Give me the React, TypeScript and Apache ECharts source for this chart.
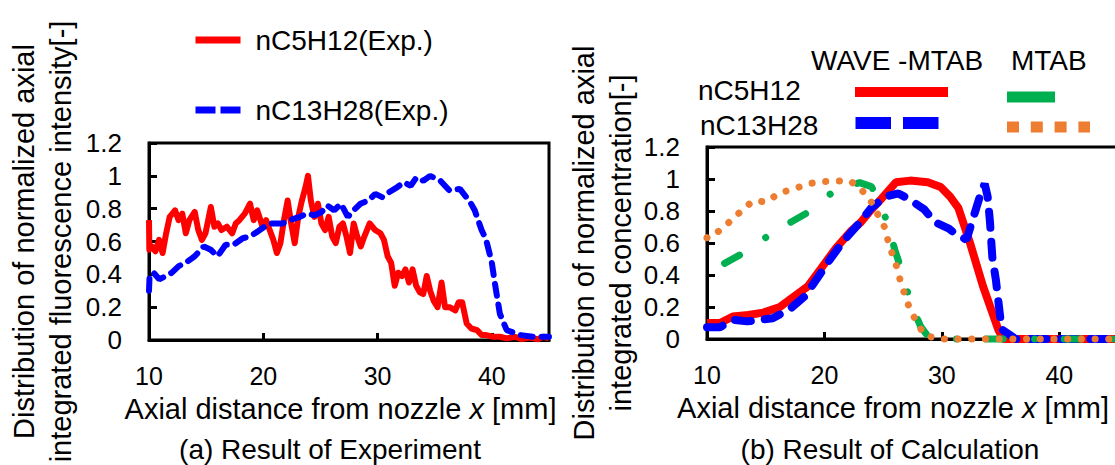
import React, { useEffect, useRef } from 'react';
import * as echarts from 'echarts';

const FONT = 'Arial, "Liberation Sans", Helvetica, sans-serif';

// x axis (mm) and y axis range
const X_MIN = 10;
const X_MAX = 45;
const X_STEP = 10;
const Y_MIN = 0;
const Y_MAX = 1.2;
const Y_STEP = 0.2;

// (a) Experiment
const expC5H12: [number, number][] = [
  [10.0, 0.73], [10.03, 0.55], [10.25, 0.57], [10.56, 0.54], [10.88, 0.61], [11.19, 0.53], [11.5, 0.65],
  [11.81, 0.75], [12.28, 0.79], [12.59, 0.73], [12.91, 0.77], [13.22, 0.65], [13.53, 0.73], [14.0, 0.78],
  [14.31, 0.67], [14.63, 0.61], [14.94, 0.65], [15.41, 0.81], [15.72, 0.69], [16.03, 0.71], [16.34, 0.67],
  [16.81, 0.69], [17.28, 0.65], [17.59, 0.71], [17.91, 0.73], [18.38, 0.77], [18.84, 0.83], [19.16, 0.73],
  [19.47, 0.79], [19.94, 0.69], [20.25, 0.73], [20.56, 0.67], [20.88, 0.61], [21.19, 0.53], [21.5, 0.59],
  [21.81, 0.73], [22.13, 0.85], [22.44, 0.71], [22.75, 0.59], [23.06, 0.75], [23.38, 0.85], [23.69, 0.93],
  [23.91, 1.0], [24.16, 0.85], [24.47, 0.75], [24.78, 0.83], [25.09, 0.71], [25.41, 0.67], [25.72, 0.75],
  [26.03, 0.63], [26.34, 0.59], [26.66, 0.69], [26.97, 0.71], [27.28, 0.63], [27.59, 0.53], [27.91, 0.71],
  [28.22, 0.63], [28.53, 0.57], [28.84, 0.63], [29.31, 0.71], [29.78, 0.67], [30.25, 0.65], [30.56, 0.61],
  [30.88, 0.51], [31.19, 0.47], [31.5, 0.33], [31.81, 0.41], [32.13, 0.39], [32.44, 0.43], [32.75, 0.35],
  [33.06, 0.43], [33.38, 0.33], [33.7, 0.29], [34.0, 0.28], [34.3, 0.39], [34.6, 0.3], [34.9, 0.24],
  [35.25, 0.2], [35.6, 0.35], [35.9, 0.2], [36.3, 0.2], [36.8, 0.18], [37.1, 0.23], [37.4, 0.23],
  [37.8, 0.1], [38.2, 0.07], [38.7, 0.06], [39.1, 0.03], [39.5, 0.03], [40.1, 0.02], [40.7, 0.02],
  [41.3, 0.01], [42.0, 0.02], [42.6, 0.005], [43.3, 0.015], [44.0, 0.005], [44.5, 0.02], [45, 0.01],
];

const expC13H28: [number, number][] = [
  [10, 0.3], [10.05, 0.39], [10.4, 0.41], [10.9, 0.37], [11.5, 0.39], [12.0, 0.41], [12.6, 0.45],
  [13.2, 0.47], [14.0, 0.51], [14.8, 0.57], [15.4, 0.55], [16.0, 0.51], [16.7, 0.58], [17.4, 0.58],
  [18.2, 0.62], [18.8, 0.63], [19.5, 0.66], [20.1, 0.69], [20.7, 0.71], [21.7, 0.71], [22.3, 0.73],
  [23.2, 0.75], [23.8, 0.77], [24.5, 0.76], [25.1, 0.78], [25.6, 0.82], [26.2, 0.79], [26.8, 0.83],
  [27.4, 0.75], [27.9, 0.79], [28.5, 0.83], [29.2, 0.85], [29.8, 0.89], [30.4, 0.87], [31.0, 0.9],
  [31.7, 0.93], [32.3, 0.96], [32.9, 0.94], [33.4, 0.99], [34.0, 0.97], [34.6, 1.0], [35.5, 0.97],
  [36.3, 0.91], [37.2, 0.92], [38.1, 0.84], [38.5, 0.79], [39.1, 0.67], [39.5, 0.61], [40.0, 0.47],
  [40.3, 0.33], [40.7, 0.16], [41.3, 0.06], [42.5, 0.03], [43.6, 0.02], [44.9, 0.02], [45, 0.02],
];

// (b) Calculation
const waveC5H12: [number, number][] = [
  [10, 0.1], [11.1, 0.1], [12.2, 0.14], [13.5, 0.15], [14.8, 0.165], [16.2, 0.2], [17.3, 0.26],
  [18.6, 0.33], [19.8, 0.45], [21.0, 0.57], [22.2, 0.67], [23.1, 0.73], [24.0, 0.81], [24.9, 0.88],
  [26.1, 0.98], [27.3, 0.99], [28.8, 0.98], [29.9, 0.95], [30.7, 0.89], [31.4, 0.82], [32.4, 0.6],
  [33.5, 0.33], [34.8, 0.06], [35.2, 0.0], [45, 0.0],
];

const waveC13H28: [number, number][] = [
  [10, 0.073], [11.1, 0.073], [12.2, 0.12], [13.4, 0.11], [14.5, 0.12], [15.6, 0.13], [17.1, 0.19],
  [18.3, 0.265], [19.3, 0.37], [20.4, 0.49], [21.6, 0.61], [22.8, 0.71], [24.0, 0.82], [25.2, 0.89],
  [26.3, 0.91], [27.3, 0.87], [28.5, 0.81], [29.4, 0.73], [30.6, 0.69], [31.1, 0.66], [32.1, 0.62],
  [32.6, 0.74], [33.4, 0.93], [33.65, 0.97], [33.9, 0.89], [34.1, 0.73], [34.3, 0.51], [34.6, 0.37],
  [34.9, 0.18], [35.1, 0.06], [35.9, 0.02], [36.3, 0.0], [45, 0.0],
];

const mtabC5H12: [number, number][] = [
  [11.5, 0.473], [13.3, 0.546], [15.3, 0.65], [17.2, 0.733], [19.2, 0.817], [20.8, 0.927], [23.0, 0.977],
  [24.0, 0.952], [24.6, 0.879], [25.4, 0.717], [26.0, 0.556], [26.7, 0.4], [27.3, 0.233], [28.2, 0.077],
  [28.8, 0.019], [29.7, 0.0], [45, 0.0],
];

const mtabC13H28: [number, number][] = [
  [10.0, 0.633], [10.15, 0.629], [11.2, 0.685], [12.1, 0.744], [13.0, 0.806], [13.9, 0.862], [15.1, 0.858],
  [16.2, 0.915], [17.4, 0.937], [18.5, 0.969], [19.7, 0.983], [20.9, 0.988], [22.2, 0.988], [23.1, 0.937],
  [23.9, 0.869], [24.5, 0.785], [25.1, 0.702], [25.4, 0.619], [25.8, 0.525], [26.2, 0.442], [26.5, 0.352],
  [26.9, 0.265], [27.3, 0.181], [27.9, 0.102], [28.5, 0.025], [29.7, 0.0], [45, 0.0],
];

const LEGEND_EXP = ['nC5H12(Exp.)', 'nC13H28(Exp.)'];
const LEGEND_CALC_COLS = ['WAVE -MTAB', 'MTAB'];
const LEGEND_CALC_ROWS = ['nC5H12', 'nC13H28'];

const X_TITLE = 'Axial distance from nozzle {i|x} [mm]';
const Y_TITLE_A = 'Distribution of normalized axial\nintegrated fluorescence intensity[-]';
const Y_TITLE_B = 'Distribution of normalized axial\nintegrated concentration[-]';
const SUB_A = '(a) Result of Experiment';
const SUB_B = '(b) Result of Calculation';

const RED = '#ff0000';
const BLUE = '#0000ff';
const GREEN = '#00b050';
const ORANGE = '#ed7d31';

function xAxis(gridIndex: number, padRight: number) {
  return {
    type: 'value',
    gridIndex,
    min: X_MIN,
    max: X_MAX,
    interval: X_STEP,
    axisLine: { show: true, onZero: false, lineStyle: { color: '#000', width: 3 } },
    axisTick: { show: true, inside: true, length: 7, lineStyle: { color: '#000', width: 3 } },
    splitLine: { show: false },
    axisLabel: { color: '#000', fontSize: 25, fontFamily: FONT, margin: 23, showMaxLabel: false },
    name: X_TITLE,
    nameLocation: 'middle',
    nameGap: 54,
    nameTextStyle: {
      color: '#000',
      fontSize: 29,
      fontFamily: FONT,
      padding: [0, padRight, 0, 0],
      rich: { i: { fontStyle: 'italic', fontSize: 29, fontFamily: FONT, color: '#000' } },
    },
  };
}

function yAxis(gridIndex: number, name: string, gap: number) {
  return {
    type: 'value',
    gridIndex,
    min: Y_MIN,
    max: Y_MAX,
    interval: Y_STEP,
    axisLine: { show: true, lineStyle: { color: '#000', width: 3 } },
    axisTick: { show: true, inside: true, length: 8, lineStyle: { color: '#000', width: 3 } },
    splitLine: { show: false },
    axisLabel: { color: '#000', fontSize: 26, fontFamily: FONT, margin: 27 },
    name,
    nameLocation: 'middle',
    nameRotate: 90,
    nameGap: gap,
    nameTextStyle: { color: '#000', fontSize: 29, fontFamily: FONT, lineHeight: 37, align: 'center' },
  };
}

export default function App() {
  const ref = useRef<HTMLDivElement>(null);

  useEffect(() => {
    if (!ref.current) return;
    const chart = echarts.init(ref.current, null, { renderer: 'svg' });
    const txt = (text: string, x: number, y: number, size: number, align = 'left') => ({
      type: 'text',
      x,
      y,
      style: { text, fill: '#000', font: `${size}px ${FONT}`, textAlign: align, textVerticalAlign: 'middle' },
    });
    const seg = (x1: number, x2: number, y: number, color: string, w: number, dash?: number[]) => ({
      type: 'line',
      shape: { x1, y1: y, x2, y2: y },
      style: { stroke: color, lineWidth: w, lineDash: dash, lineCap: 'butt' },
    });

    chart.setOption({
      animation: false,
      backgroundColor: '#fff',
      grid: [
        {
          left: 149, top: 143, width: 400, height: 197, show: true, borderColor: '#000', borderWidth: 3,
          containLabel: false, outerBoundsMode: 'none',
        },
        {
          left: 707, top: 147, width: 411, height: 192, show: true, borderColor: '#000', borderWidth: 3,
          containLabel: false, outerBoundsMode: 'none',
        },
      ],
      xAxis: [xAxis(0, 17), xAxis(1, 39)],
      yAxis: [yAxis(0, Y_TITLE_A, 70), yAxis(1, Y_TITLE_B, 68)],
      legend: {
        data: [
          { name: LEGEND_EXP[0] },
          { name: LEGEND_EXP[1], lineStyle: { type: [20, 5] } },
        ],
        orient: 'vertical',
        left: 187,
        top: 19,
        itemWidth: 45,
        itemHeight: 8,
        itemGap: 38,
        selectedMode: false,
        textStyle: { fontSize: 28, fontFamily: FONT, color: '#000', lineHeight: 32, padding: [0, 0, 0, 10] },
        lineStyle: { width: 7, cap: 'butt' },
        itemStyle: { opacity: 0 },
      },
      series: [
        {
          name: LEGEND_EXP[0], type: 'line', xAxisIndex: 0, yAxisIndex: 0, data: expC5H12,
          symbol: 'none', clip: false, lineStyle: { color: RED, width: 6, join: 'round' }, itemStyle: { color: RED },
        },
        {
          name: LEGEND_EXP[1], type: 'line', xAxisIndex: 0, yAxisIndex: 0, data: expC13H28,
          symbol: 'none', clip: false, lineStyle: { color: BLUE, width: 6, type: [12, 9], cap: 'round' }, itemStyle: { color: BLUE },
        },
        {
          name: 'WAVE-MTAB nC5H12', type: 'line', xAxisIndex: 1, yAxisIndex: 1, data: waveC5H12,
          symbol: 'none', clip: false, lineStyle: { color: RED, width: 8 },
        },
        {
          name: 'WAVE-MTAB nC13H28', type: 'line', xAxisIndex: 1, yAxisIndex: 1, data: waveC13H28,
          symbol: 'none', clip: false, lineStyle: { color: BLUE, width: 8, type: [16, 14], cap: 'round' },
        },
        {
          name: 'MTAB nC5H12', type: 'line', xAxisIndex: 1, yAxisIndex: 1, data: mtabC5H12,
          symbol: 'none', clip: false, lineStyle: { color: GREEN, width: 7, type: [17, 31.5, 0.1, 29.5], cap: 'round' },
        },
        {
          name: 'MTAB nC13H28', type: 'line', xAxisIndex: 1, yAxisIndex: 1, data: mtabC13H28,
          symbol: 'none', clip: false, lineStyle: { color: ORANGE, width: 7, type: [0.1, 13.6], cap: 'round' },
        },
      ],
      graphic: [
        txt(SUB_A, 330, 449, 28, 'center'),
        txt(SUB_B, 890, 449, 28, 'center'),
        txt(LEGEND_CALC_COLS[0], 811, 60, 28),
        txt(LEGEND_CALC_COLS[1], 1011, 60, 28),
        txt(LEGEND_CALC_ROWS[0], 698, 90, 28),
        txt(LEGEND_CALC_ROWS[1], 700, 125, 28),
        seg(855, 948, 92, RED, 10),
        seg(1007, 1055, 97, GREEN, 11),
        seg(855.5, 939, 123, BLUE, 12, [35.5, 12]),
        seg(1007, 1090, 127, ORANGE, 11, [12, 11.8]),
      ],
    });
    return () => chart.dispose();
  }, []);

  return (
    <div
      ref={ref}
      style={{ position: 'fixed', left: 0, top: 0, width: 1115, height: 465, background: '#fff' }}
    />
  );
}
